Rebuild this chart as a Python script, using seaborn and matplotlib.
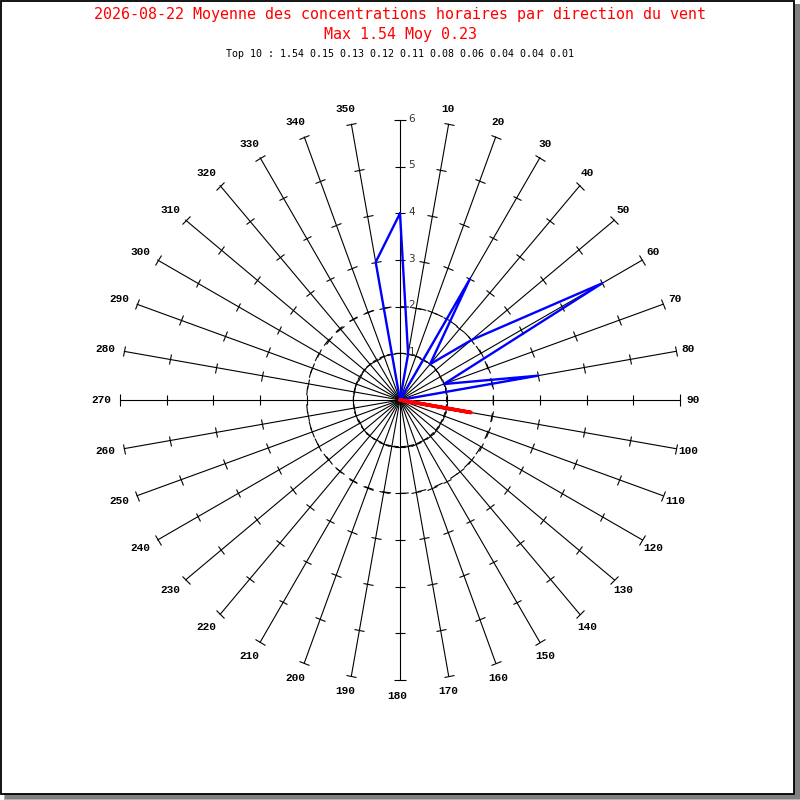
import numpy as np
import pandas as pd
import matplotlib
matplotlib.use("Agg")
import matplotlib.pyplot as plt
import seaborn as sns
from matplotlib.markers import MarkerStyle
from matplotlib.transforms import Affine2D
from matplotlib.patches import Rectangle

# ---------------- data ----------------
directions = list(range(0, 360, 10))
# hours per wind direction (blue polygon)
hour_counts = [4, 1, 0, 3, 1, 2, 5, 1, 3,
               0, 0, 0, 0, 0, 0, 0, 0, 0,
               0, 0, 0, 0, 0, 0, 0, 0, 0,
               0, 0, 0, 0, 0, 0, 0, 0, 3]
# mean concentration per wind direction (red polygon)
mean_conc = [0, 0, 0, 0, 0, 0, 0, 0, 0,
             0, 1.54, 0, 0, 0, 0, 0, 0, 0,
             0, 0, 0, 0, 0, 0, 0, 0, 0,
             0, 0, 0, 0, 0, 0, 0, 0, 0]
radial_ticks = [1, 2, 3, 4, 5, 6]
dashed_circles = [1, 2]
top10 = [1.54, 0.15, 0.13, 0.12, 0.11, 0.08, 0.06, 0.04, 0.04, 0.01]
title_line1 = "2026-08-22 Moyenne des concentrations horaires par direction du vent"
title_line2 = "Max 1.54 Moy 0.23"
title_line3 = "Top 10 : " + " ".join(f"{v:.2f}" for v in top10)

sns.set_style("white")
LABEL_FONT = ["Liberation Mono", "DejaVu Sans Mono"]
TITLE_FONT = ["DejaVu Sans Mono"]

fig = plt.figure(figsize=(8, 8), dpi=100, facecolor="white")

# frame with shadow
fig.patches.append(Rectangle((4 / 800, 0), 796 / 800, 796 / 800, transform=fig.transFigure,
                             facecolor="#b0b0b0", edgecolor="none", zorder=-3))
fig.patches.append(Rectangle((5 / 800, 1 / 800), 795 / 800, 795 / 800, transform=fig.transFigure,
                             facecolor="#808080", edgecolor="none", zorder=-2.5))
fig.patches.append(Rectangle((0.6 / 800, 6 / 800), 793 / 800, 793.4 / 800, transform=fig.transFigure,
                             facecolor="white", edgecolor="black", linewidth=1.3, zorder=-2))

ax = fig.add_axes([0.15, 0.15, 0.70, 0.70], projection="polar")
ax.set_theta_zero_location("N")
ax.set_theta_direction(-1)
ax.set_ylim(0, 6)
ax.axis("off")

rmax = radial_ticks[-1]
for d in directions:
    th = np.deg2rad(d)
    ax.plot([th, th], [0, rmax], color="black", lw=0.8, zorder=2, clip_on=False)
    if d % 180 == 0:
        m = "_"
    elif d % 90 == 0:
        m = "|"
    else:
        m = MarkerStyle("|", transform=Affine2D().rotate_deg(90 - d))
    ax.plot([th] * (len(radial_ticks) - 1), radial_ticks[:-1], linestyle="none",
            marker=m, markersize=7.0, markeredgewidth=0.8, color="black", zorder=2,
            clip_on=False)
    ax.plot([th], [rmax], linestyle="none", marker=m, markersize=8.0,
            markeredgewidth=0.8, color="black", zorder=2, clip_on=False)
    if d != 0:
        ax.annotate(str(d), xy=(th, 6.34), xytext=(-2.2, 0), textcoords="offset points",
                    ha="center", va="center", family=LABEL_FONT,
                    fontweight="bold", fontsize=8, color="black", annotation_clip=False)

tt = np.linspace(0, 2 * np.pi, 361)
ax.plot(tt, np.full_like(tt, dashed_circles[0]), color="black", lw=0.8,
        linestyle=(0, (5, 2)), zorder=2)
ax.plot(tt, np.full_like(tt, dashed_circles[1]), color="black", lw=0.8,
        linestyle=(0, (8, 8)), zorder=2)

for k in radial_ticks:
    ax.annotate(str(k), xy=(0, k), xytext=(6, 1), textcoords="offset points",
                ha="left", va="center", fontsize=7.5, color="#333333",
                family="DejaVu Sans", annotation_clip=False)

theta_closed = np.deg2rad(directions + [directions[0]])
df_blue = pd.DataFrame({"theta": theta_closed, "r": hour_counts + [hour_counts[0]]})
df_red = pd.DataFrame({"theta": theta_closed, "r": mean_conc + [mean_conc[0]]})

sns.lineplot(data=df_blue, x="theta", y="r", sort=False, estimator=None,
             color="#0000ff", lw=1.7, ax=ax, zorder=4)
sns.lineplot(data=df_red, x="theta", y="r", sort=False, estimator=None,
             color="#ff0000", lw=2.6, ax=ax, zorder=5)
ax.set_ylim(0, 6)
ax.axis("off")

fig.text(0.5, 1 - 15 / 800, title_line1, ha="center", va="center", color="red",
         family=TITLE_FONT, fontsize=10.8)
fig.text(0.5, 1 - 35 / 800, title_line2, ha="center", va="center", color="red",
         family=TITLE_FONT, fontsize=10.8)
fig.text(0.5, 1 - 54 / 800, title_line3, ha="center", va="center", color="black",
         family=TITLE_FONT, fontsize=7.2)

fig.savefig("out.png", dpi=100, facecolor="white")
